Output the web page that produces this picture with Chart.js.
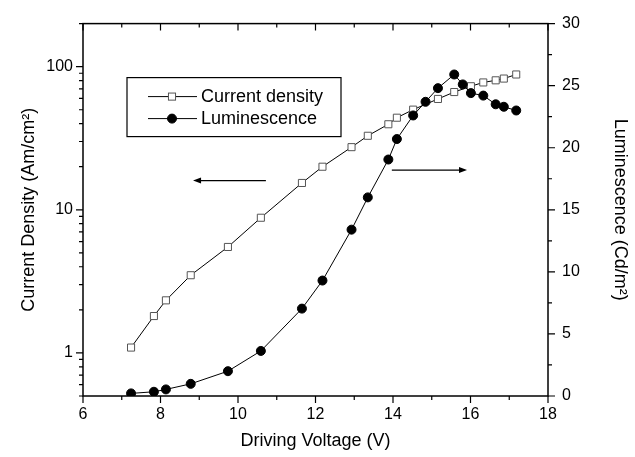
<!DOCTYPE html>
<html>
<head>
<meta charset="utf-8">
<script src="https://cdn.jsdelivr.net/npm/chart.js@4.4.0/dist/chart.umd.min.js"></script>
<style>
  html, body { margin: 0; padding: 0; background: #fff; }
</style>
</head>
<body>
<canvas id="myChart" width="635" height="457"></canvas>
<script>
// data
const voltsJ = [7.24, 7.83, 8.14, 8.78, 9.74, 10.59, 11.65, 12.18, 12.93, 13.35, 13.88, 14.1, 14.52, 15.16, 15.58, 16.01, 16.33, 16.65, 16.86, 17.18];
const currentDensity = [1.09, 1.81, 2.33, 3.49, 5.5, 8.8, 15.4, 20.0, 27.4, 32.9, 39.6, 44.0, 50.1, 59.5, 66.5, 73.0, 77.6, 80.3, 82.6, 88.2];
const voltsL = [7.24, 7.83, 8.14, 8.78, 9.74, 10.59, 11.65, 12.18, 12.93, 13.35, 13.88, 14.1, 14.52, 14.84, 15.16, 15.58, 15.8, 16.01, 16.33, 16.65, 16.86, 17.18];
const luminescence = [0.21, 0.34, 0.53, 0.98, 2.0, 3.63, 7.04, 9.3, 13.4, 16.0, 19.05, 20.7, 22.6, 23.7, 24.8, 25.9, 25.1, 24.4, 24.2, 23.5, 23.3, 23.0];

const xTicks = [6, 8, 10, 12, 14, 16, 18];
const leftTicks = [1, 10, 100];
const rightTicks = [0, 5, 10, 15, 20, 25, 30];

// arrows: [from V, to V, value on its own axis]
const leftArrow = [10.72, 8.84, 16.0];
const rightArrow = [13.97, 15.91, 18.2];

const FONT = "Arial, 'Liberation Sans', sans-serif";
const pairs = (xs, ys) => xs.map((x, i) => ({ x, y: ys[i] }));

const ctx = document.getElementById("myChart").getContext("2d");

// 外框 + 刻度
const frameTicks = {
  id: "frameTicks",
  afterDatasetsDraw(chart) {
    const { ctx, chartArea: { left, right, top, bottom }, scales: { x, y, y1 } } = chart;
    ctx.save();
    ctx.strokeStyle = "#000";
    ctx.lineWidth = 1.5;
    ctx.strokeRect(left, top, right - left, bottom - top);

    ctx.lineWidth = 1.2;
    ctx.beginPath();
    for (let v = 6; v <= 18; v++) {
      const px = x.getPixelForValue(v);
      const len = v % 2 === 0 ? 7 : 4;
      ctx.moveTo(px, bottom); ctx.lineTo(px, bottom + len);
      ctx.moveTo(px, top); ctx.lineTo(px, top + len);
    }
    [0.1, 1, 10, 100].forEach((d) => {
      for (let m = 1; m <= 9; m++) {
        const v = m * d;
        if (v < 0.5 - 1e-9 || v > 200 + 1e-9) continue;
        const py = y.getPixelForValue(v);
        ctx.moveTo(left, py); ctx.lineTo(left - (m === 1 ? 7 : 4), py);
      }
    });
    for (let v = 0; v <= 30; v += 2.5) {
      const py = y1.getPixelForValue(v);
      ctx.moveTo(right, py); ctx.lineTo(right + (v % 5 === 0 ? 7 : 4), py);
    }
    ctx.stroke();
    ctx.restore();
  },
};

// 箭頭
function drawArrow(ctx, x0, x1, yy) {
  const dir = Math.sign(x1 - x0);
  ctx.beginPath();
  ctx.moveTo(x0, yy);
  ctx.lineTo(x1 - dir * 6, yy);
  ctx.stroke();
  ctx.beginPath();
  ctx.moveTo(x1, yy);
  ctx.lineTo(x1 - dir * 8, yy - 3);
  ctx.lineTo(x1 - dir * 8, yy + 3);
  ctx.closePath();
  ctx.fill();
}

const arrowsPlugin = {
  id: "arrowsPlugin",
  afterDatasetsDraw(chart) {
    const { ctx, scales: { x, y, y1 } } = chart;
    ctx.save();
    ctx.strokeStyle = "#000";
    ctx.fillStyle = "#000";
    ctx.lineWidth = 1.2;
    drawArrow(ctx, x.getPixelForValue(leftArrow[0]), x.getPixelForValue(leftArrow[1]), y.getPixelForValue(leftArrow[2]));
    drawArrow(ctx, x.getPixelForValue(rightArrow[0]), x.getPixelForValue(rightArrow[1]), y1.getPixelForValue(rightArrow[2]));
    ctx.restore();
  },
};

// 圖例(框在圖內)
const boxLegend = {
  id: "boxLegend",
  afterDraw(chart) {
    const { ctx, chartArea: { left, top } } = chart;
    const bx = left + 44, by = top + 54, bw = 214, bh = 59;
    ctx.save();
    ctx.fillStyle = "#fff";
    ctx.fillRect(bx, by, bw, bh);
    ctx.strokeStyle = "#000";
    ctx.lineWidth = 1.2;
    ctx.strokeRect(bx, by, bw, bh);

    ctx.font = "18px " + FONT;
    ctx.textBaseline = "middle";
    chart.data.datasets.forEach((ds, i) => {
      const yy = by + 19 + i * 22;
      const cx = bx + 45;
      ctx.strokeStyle = "#000";
      ctx.lineWidth = 1;
      ctx.beginPath();
      ctx.moveTo(bx + 21, yy);
      ctx.lineTo(bx + 70, yy);
      ctx.stroke();
      ctx.fillStyle = ds.pointBackgroundColor;
      ctx.strokeStyle = ds.pointBorderColor;
      ctx.lineWidth = ds.pointBorderWidth;
      if (ds.pointStyle === "rect") {
        const s = ds.pointRadius * Math.SQRT1_2;
        ctx.fillRect(cx - s, yy - s, 2 * s, 2 * s);
        ctx.strokeRect(cx - s, yy - s, 2 * s, 2 * s);
      } else {
        ctx.beginPath();
        ctx.arc(cx, yy, ds.pointRadius, 0, 2 * Math.PI);
        ctx.fill();
        ctx.stroke();
      }
      ctx.fillStyle = "#000";
      ctx.fillText(ds.label, bx + 74, yy);
    });
    ctx.restore();
  },
};

const tickFont = { family: FONT, size: 16 };
const titleFont = { family: FONT, size: 18 };

const myChart = new Chart(ctx, {
  type: "scatter",
  data: {
    datasets: [
      {
        label: "Current density",
        data: pairs(voltsJ, currentDensity),
        yAxisID: "y",
        showLine: true,
        borderColor: "#000",
        borderWidth: 1,
        pointStyle: "rect",
        pointRadius: 5,
        pointBackgroundColor: "#fff",
        pointBorderColor: "#555",
        pointBorderWidth: 1,
        order: 1,
      },
      {
        label: "Luminescence",
        data: pairs(voltsL, luminescence),
        yAxisID: "y1",
        showLine: true,
        borderColor: "#000",
        borderWidth: 1,
        pointStyle: "circle",
        pointRadius: 4.5,
        pointBackgroundColor: "#000",
        pointBorderColor: "#000",
        pointBorderWidth: 1,
        order: 0,
      },
    ],
  },
  options: {
    responsive: false,
    animation: false,
    layout: { padding: { top: 19, left: 0, right: 0, bottom: 0 } },
    plugins: { legend: { display: false }, tooltip: { enabled: false } },
    scales: {
      x: {
        type: "linear",
        position: "bottom",
        min: 6,
        max: 18,
        afterBuildTicks: (s) => { s.ticks = xTicks.map((v) => ({ value: v })); },
        ticks: { font: tickFont, color: "#000", padding: 9, maxRotation: 0 },
        grid: { display: false, drawTicks: false },
        border: { display: false },
        title: { display: true, text: "Driving Voltage (V)", font: titleFont, color: "#000", padding: { top: 0, bottom: 5 } },
        afterFit: (s) => { s.height = 61; },
      },
      y: {
        type: "logarithmic",
        position: "left",
        min: 0.5,
        max: 200,
        afterBuildTicks: (s) => { s.ticks = leftTicks.map((v) => ({ value: v })); },
        ticks: { callback: (v) => String(v), font: tickFont, color: "#000", padding: 10 },
        grid: { display: false, drawTicks: false },
        border: { display: false },
        title: { display: true, text: "Current Density (Am/cm²)", font: titleFont, color: "#000", padding: { top: 18, bottom: 0 } },
        afterFit: (s) => { s.width = 83; },
      },
      y1: {
        type: "linear",
        position: "right",
        min: 0,
        max: 30,
        afterBuildTicks: (s) => { s.ticks = rightTicks.map((v) => ({ value: v })); },
        ticks: { font: tickFont, color: "#000", padding: 14 },
        grid: { display: false, drawTicks: false },
        border: { display: false },
        title: { display: true, text: "Luminescence (Cd/m²)", font: titleFont, color: "#000", padding: { top: 4, bottom: 0 } },
        afterFit: (s) => { s.width = 87; },
      },
    },
  },
  plugins: [frameTicks, arrowsPlugin, boxLegend],
});
</script>
</body>
</html>
